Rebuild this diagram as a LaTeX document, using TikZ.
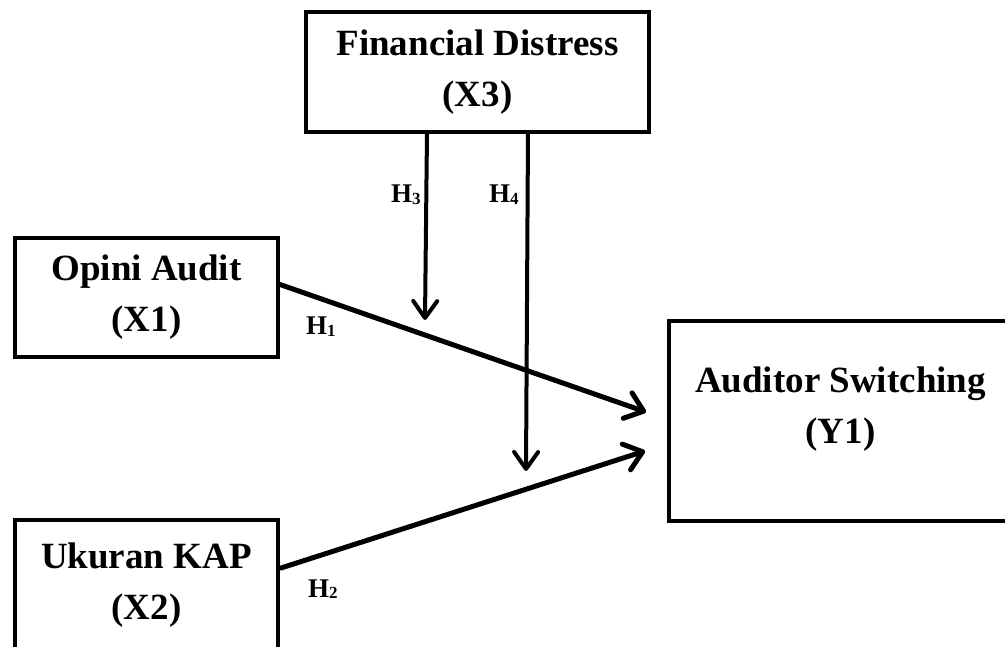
\documentclass[tikz,border=0pt]{standalone}
\usepackage{fontspec}
\setmainfont{Liberation Serif}
\usetikzlibrary{arrows.meta,calc}
\newcommand\hlab[1]{H\raisebox{-1.5pt}{\fontsize{17}{17}\selectfont #1}}
\begin{document}
\begin{tikzpicture}[x=1pt,y=-1pt,
  box/.style={draw,line width=4.5pt,inner sep=0pt,outer sep=0pt,align=center,
    font=\fontsize{37}{51}\selectfont\bfseries},
  hl/.style={anchor=base west,inner sep=0pt,font=\fontsize{27}{27}\selectfont\bfseries},
  mainarrow/.style={line width=5pt,line cap=round,line join=round,
    -{Straight Barb[length=17pt,width=27pt,line cap=round,line join=round]}},
  modarrow/.style={line width=4pt,line cap=round,line join=round,
    -{Straight Barb[length=17pt,width=24pt,line cap=round,line join=round]}}]
\clip (0,0) rectangle (1005,647);
\fill[white] (0,0) rectangle (1005,647);

\node[box,minimum width=343pt,minimum height=120pt] (fd) at (477.5,72) {Financial Distress\\(X3)};
\node[box,minimum width=263pt,minimum height=119pt] (oa) at (146.5,297.5) {Opini Audit\\(X1)};
\node[box,minimum width=263pt,minimum height=130pt] (uk) at (146.5,585) {Ukuran KAP\\(X2)};
\node[box,minimum width=343pt,minimum height=200pt] (as) at (840.5,421) {};
\node[align=center,inner sep=0pt,font=\fontsize{37}{51}\selectfont\bfseries] (astext) at (840.5,409) {Auditor Switching\\(Y1)};

\coordinate (h1s) at ($(oa.east)+(2,-13)$);
\coordinate (h1e) at ($(as.west)+(-23,-9)$);
\coordinate (h2s) at ($(uk.east)+(3,-17)$);
\coordinate (h2e) at ($(as.west)+(-24,30)$);
\coordinate (h3s) at ($(fd.south west)+(121,0)$);
\coordinate (h3e) at (425,320);
\coordinate (h4s) at ($(fd.south west)+(222,0)$);
\coordinate (h4e) at (526,471);

\draw[mainarrow] (h1s) -- (h1e);
\draw[mainarrow] (h2s) -- (h2e);
\draw[modarrow] (h3s) -- (h3e);
\draw[modarrow] (h4s) -- (h4e);

\node[hl] (l1) at (306,335) {\hlab{1}};
\node[hl] (l2) at (308,597) {\hlab{2}};
\node[hl] (l3) at (391,203) {\hlab{3}};
\node[hl] (l4) at (489,203) {\hlab{4}};
\end{tikzpicture}
\end{document}
